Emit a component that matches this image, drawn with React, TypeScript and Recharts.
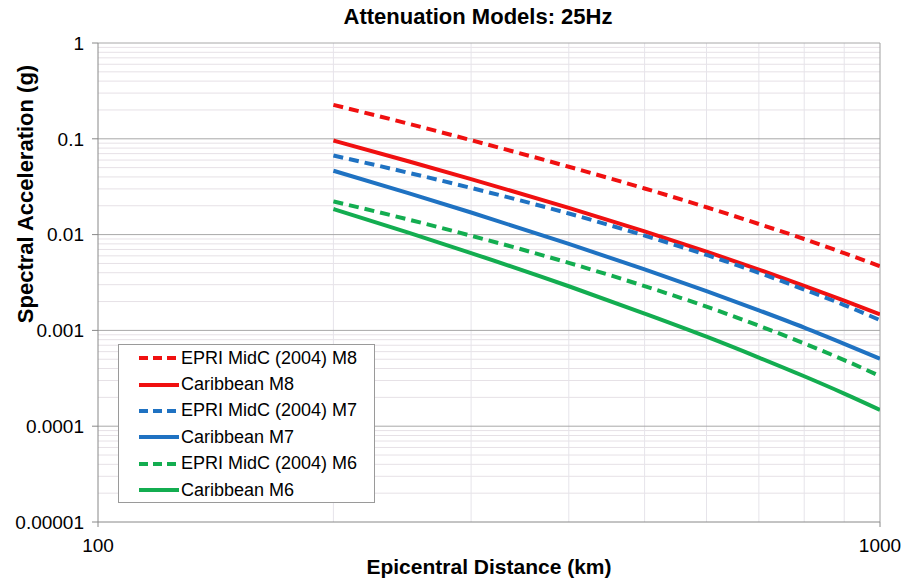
import React from 'react';
import { LineChart, Line, XAxis, YAxis, ReferenceLine, Legend } from 'recharts';

const FONT = '"Liberation Sans", Arial, sans-serif';

// epicentral distance (km)
const distances = [200, 250, 300, 400, 500, 600, 700, 800, 900, 1000];

// spectral acceleration (g) at 25Hz
const epriM8 = [0.226, 0.143, 0.0967, 0.0511, 0.0303, 0.0193, 0.0129, 0.009, 0.0064, 0.00468];
const caribM8 = [0.096, 0.058, 0.038, 0.019, 0.0108, 0.00664, 0.00432, 0.00292, 0.00205, 0.00147];
const epriM7 = [0.067, 0.044, 0.0307, 0.0166, 0.00976, 0.00613, 0.00399, 0.00267, 0.00184, 0.00128];
const caribM7 = [0.0464, 0.0269, 0.017, 0.008, 0.00433, 0.00257, 0.00162, 0.00107, 0.000725, 0.000507];
const epriM6 = [0.0222, 0.0143, 0.00974, 0.00507, 0.0029, 0.00177, 0.00112, 0.000732, 0.00049, 0.000334];
const caribM6 = [0.0185, 0.0104, 0.00642, 0.00289, 0.0015, 0.00086, 0.000521, 0.000332, 0.000219, 0.000148];

const yTicks = [0.00001, 0.0001, 0.001, 0.01, 0.1, 1];
const yTickLabels = ['0.00001', '0.0001', '0.001', '0.01', '0.1', '1'];
const xTicks = [100, 1000];
const xTickLabels = ['100', '1000'];
const xGrid = [200, 300, 400, 500, 600, 700, 800, 900];
const minorSteps = [2, 3, 4, 5, 6, 7, 8, 9];

const series = [
  { key: 'epriM8', name: 'EPRI MidC (2004) M8', values: epriM8, color: '#f01010', dashed: true },
  { key: 'caribM8', name: 'Caribbean M8', values: caribM8, color: '#f01010', dashed: false },
  { key: 'epriM7', name: 'EPRI MidC (2004) M7', values: epriM7, color: '#1f72c2', dashed: true },
  { key: 'caribM7', name: 'Caribbean M7', values: caribM7, color: '#1f72c2', dashed: false },
  { key: 'epriM6', name: 'EPRI MidC (2004) M6', values: epriM6, color: '#13ad50', dashed: true },
  { key: 'caribM6', name: 'Caribbean M6', values: caribM6, color: '#13ad50', dashed: false },
];

const data = distances.map((x, i) => {
  const row: Record<string, number> = { x };
  series.forEach((s) => {
    row[s.key] = s.values[i];
  });
  return row;
});

const minorY = yTicks.slice(0, -1).flatMap((d) => minorSteps.map((m) => m * d));

function LegendBox() {
  return (
    <div
      style={{
        width: 255,
        height: 157,
        border: '1px solid #9a9a9a',
        background: '#fff',
        fontFamily: FONT,
        fontSize: 18,
        color: '#000',
        boxSizing: 'content-box',
      }}
    >
      {series.map((s, i) => (
        <div
          key={s.key}
          style={{ display: 'flex', alignItems: 'center', height: 26.4, marginTop: i === 0 ? 0 : 0 }}
        >
          <svg width={62} height={10} style={{ flex: 'none' }}>
            <line
              x1={20}
              y1={5}
              x2={60}
              y2={5}
              stroke={s.color}
              strokeWidth={4}
              strokeDasharray={s.dashed ? '9 5' : undefined}
            />
          </svg>
          <span style={{ whiteSpace: 'nowrap' }}>{s.name}</span>
        </div>
      ))}
    </div>
  );
}

export default function App() {
  return (
    <div style={{ position: 'absolute', left: 0, top: 0, width: 908, height: 581, background: '#fff' }}>
      <div
        style={{
          position: 'absolute',
          left: 0,
          top: 4,
          width: 956,
          textAlign: 'center',
          fontFamily: FONT,
          fontWeight: 'bold',
          fontSize: 22,
          zIndex: 2,
        }}
      >
        Attenuation Models: 25Hz
      </div>
      <LineChart width={908} height={581} data={data} margin={{ top: 43, right: 28, bottom: 0, left: 0 }}>
        {minorY.map((v) => (
          <ReferenceLine key={'my' + v} y={v} stroke="#e6e1e6" strokeWidth={1} />
        ))}
        {xGrid.map((v) => (
          <ReferenceLine key={'gx' + v} x={v} stroke="#e6e4ea" strokeWidth={1} />
        ))}
        {yTicks.slice(1).map((v) => (
          <ReferenceLine key={'My' + v} y={v} stroke="#a8a8a8" strokeWidth={1} />
        ))}
        <ReferenceLine x={1000} stroke="#a0a0a0" strokeWidth={1} />
        <XAxis
          dataKey="x"
          type="number"
          scale="log"
          domain={[100, 1000]}
          ticks={xTicks}
          allowDataOverflow
          height={59}
          tickSize={5}
          tickMargin={12}
          stroke="#888"
          tick={{ fontSize: 19, fill: '#000', fontFamily: FONT }}
          tickFormatter={(v: number) => xTickLabels[xTicks.indexOf(v)] ?? String(v)}
          label={{
            content: () => (
              <text
                x={489}
                y={566}
                textAnchor="middle"
                dominantBaseline="central"
                fontFamily={FONT}
                fontWeight="bold"
                fontSize={21}
                fill="#000"
              >
                Epicentral Distance (km)
              </text>
            ),
          }}
        />
        <YAxis
          type="number"
          scale="log"
          domain={[0.00001, 1]}
          ticks={yTicks}
          allowDataOverflow
          width={98}
          tickSize={6}
          tickMargin={8}
          stroke="#888"
          tick={{ fontSize: 19, fill: '#000', fontFamily: FONT }}
          tickFormatter={(v: number) => yTickLabels[yTicks.indexOf(v)] ?? String(v)}
          label={{
            content: () => (
              <text
                x={25}
                y={194}
                transform="rotate(-90 25 194)"
                textAnchor="middle"
                dominantBaseline="central"
                fontFamily={FONT}
                fontWeight="bold"
                fontSize={22}
                fill="#000"
              >
                Spectral Acceleration (g)
              </text>
            ),
          }}
        />
        {series.map((s) => (
          <Line
            key={s.key}
            dataKey={s.key}
            name={s.name}
            type="monotone"
            stroke={s.color}
            strokeWidth={4}
            strokeDasharray={s.dashed ? '10 6' : undefined}
            dot={false}
            activeDot={false}
            isAnimationActive={false}
          />
        ))}
        <Legend
          layout="horizontal"
          verticalAlign="middle"
          align="center"
          wrapperStyle={{ left: 118, top: 344, width: 257, height: 159 }}
          content={() => <LegendBox />}
        />
      </LineChart>
    </div>
  );
}
